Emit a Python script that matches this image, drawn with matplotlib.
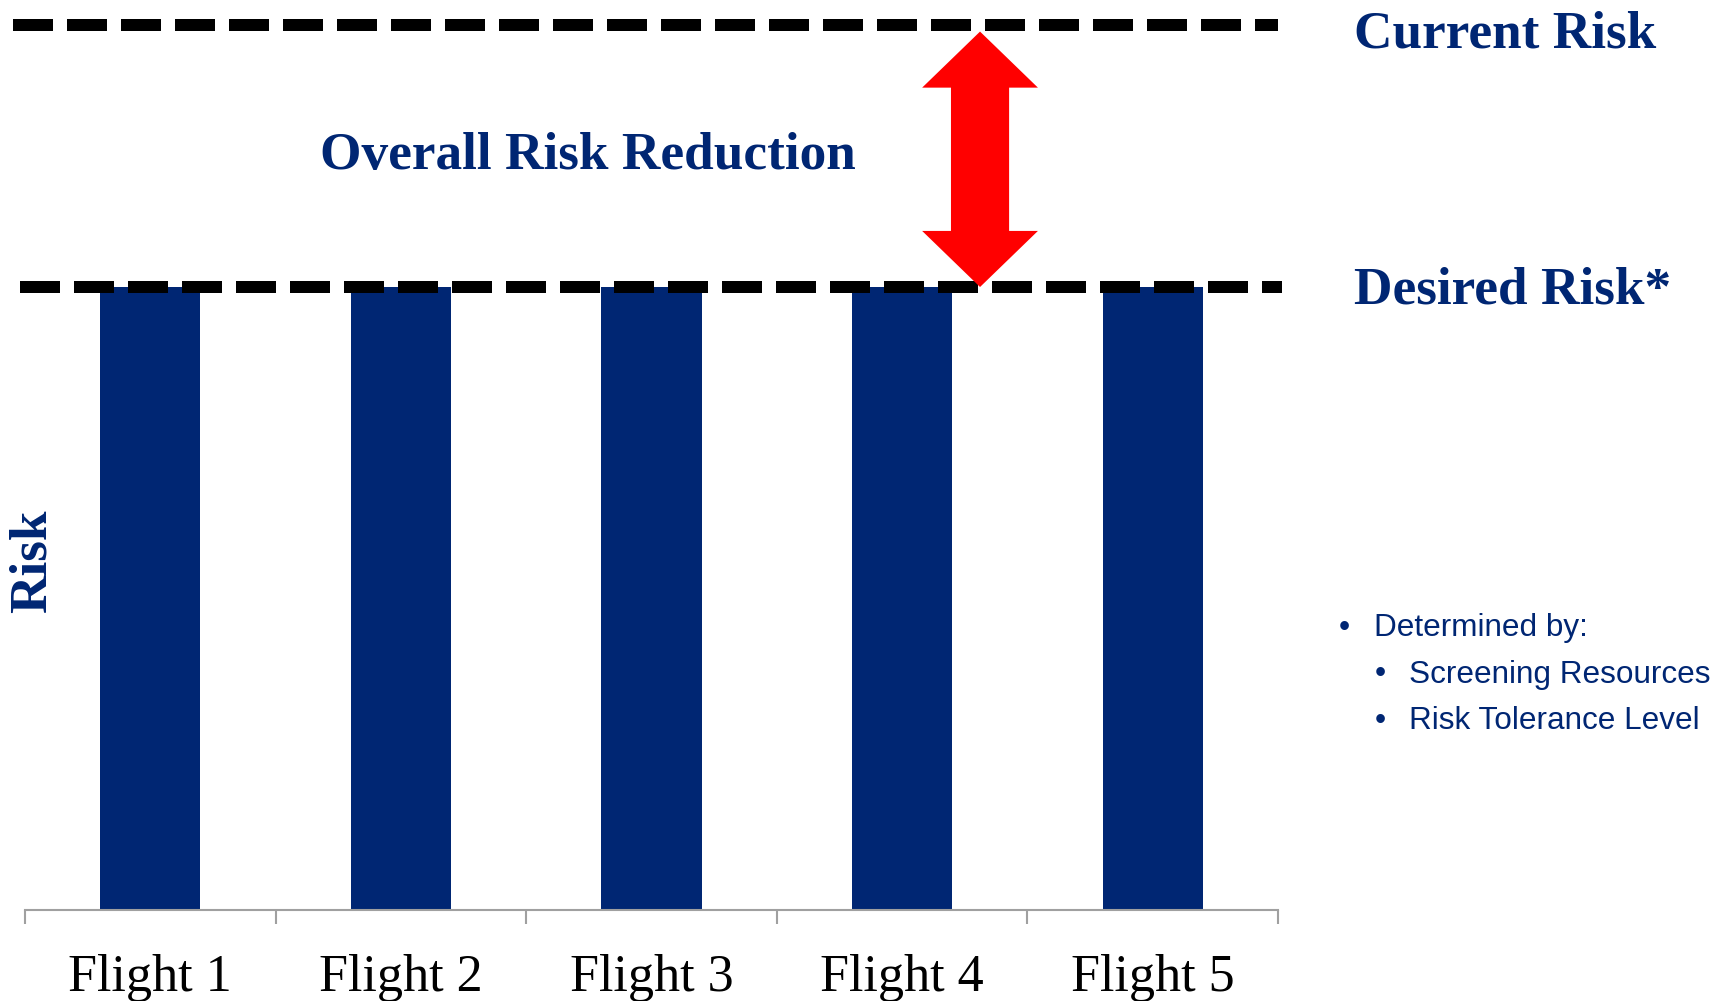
import matplotlib.pyplot as plt
from matplotlib.patches import Polygon

flights = ['Flight 1', 'Flight 2', 'Flight 3', 'Flight 4', 'Flight 5']
flight_risk = [1.0, 1.0, 1.0, 1.0, 1.0]
current_risk = 1.42
desired_risk = 1.0
notes = ['Determined by:', 'Screening Resources', 'Risk Tolerance Level']
note_levels = [0, 1, 1]

navy = '#002673'
serif = 'Liberation Serif'
W, H = 1730, 1001

fig = plt.figure(figsize=(W / 100, H / 100), dpi=100)
ax = fig.add_axes([25 / W, 1 - 910 / H, (1278 - 25) / W, 910 / H])

x = list(range(len(flights)))
ax.bar(x, flight_risk, width=0.4, color=navy, zorder=2)

# dashed reference levels
lw_px = 12
dash = (0, (40 / lw_px, 14 / lw_px))
ax.plot([-0.548, 4.5], [current_risk, current_risk], color='black',
        lw=lw_px * 0.72, linestyle=dash, clip_on=False, zorder=3)
ax.plot([-0.52, 4.516], [desired_risk, desired_risk], color='black',
        lw=lw_px * 0.72, linestyle=dash, clip_on=False, zorder=3)

# red double-headed arrow between the two levels
cx, shaft, head, hl = 3.311, 0.116, 0.231, 0.09
top, bot = current_risk - 0.01, desired_risk
pts = [(cx, top), (cx + head, top - hl), (cx + shaft, top - hl),
       (cx + shaft, bot + hl), (cx + head, bot + hl), (cx, bot),
       (cx - head, bot + hl), (cx - shaft, bot + hl), (cx - shaft, top - hl),
       (cx - head, top - hl)]
ax.add_patch(Polygon(pts, closed=True, color='#ff0000', lw=0, zorder=4))

ax.set_xlim(-0.5, 4.5)
ax.set_ylim(0, 910 / 623)
for s in ['top', 'right', 'left']:
    ax.spines[s].set_visible(False)
ax.spines['bottom'].set_color('#a0a0a0')
ax.spines['bottom'].set_linewidth(1.5)
ax.set_yticks([])
ax.set_xticks(x)
ax.set_xticklabels(flights, family=serif, fontsize=37.5)
ax.set_xticks([i - 0.5 for i in range(len(flights) + 1)], minor=True)
ax.tick_params(axis='x', which='major', length=0, pad=32)
ax.tick_params(axis='x', which='minor', length=10, width=1.5,
               color='#a0a0a0', direction='out')

title_kw = dict(family=serif, weight='bold', color=navy, fontsize=38.3,
                va='baseline')
fig.text(1354 / W, 1 - 47 / H, 'Current Risk', ha='left', **title_kw)
fig.text(1354 / W, 1 - 304 / H, 'Desired Risk*', ha='left', **title_kw)
fig.text(320 / W, 1 - 169 / H, 'Overall Risk Reduction', ha='left', **title_kw)
fig.text(33 / W, 1 - 561 / H, 'Risk', family=serif, weight='bold', color=navy,
         fontsize=38.3, rotation=90, ha='center', va='center')

# footnote bullets
for i, (txt, lvl) in enumerate(zip(notes, note_levels)):
    yb = 1 - (636 + 46.5 * i) / H
    fig.text((1339 + 36 * lvl) / W, yb, '\u2022', family='Liberation Sans',
             color=navy, fontsize=23, va='baseline')
    fig.text((1374 + 35 * lvl) / W, yb, txt, family='Liberation Sans',
             color=navy, fontsize=22.7, va='baseline')

fig.savefig('out.png', dpi=100)
